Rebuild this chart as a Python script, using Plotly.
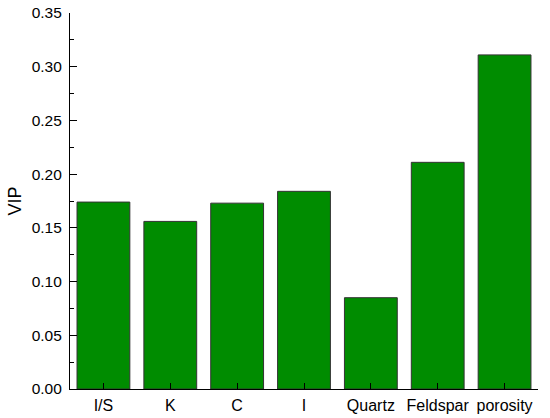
import plotly.graph_objects as go

categories = ["I/S", "K", "C", "I", "Quartz", "Feldspar", "porosity"]
vip = [0.174, 0.156, 0.173, 0.184, 0.085, 0.211, 0.311]
y_ticks = [0.00, 0.05, 0.10, 0.15, 0.20, 0.25, 0.30, 0.35]

fig = go.Figure(go.Bar(
    x=categories, y=vip,
    marker=dict(color="#008c00", line=dict(color="#333333", width=1)),
))

fig.update_layout(
    template="none",
    width=550, height=418,
    margin=dict(l=70, r=12, t=13, b=29, autoexpand=False),
    plot_bgcolor="white", paper_bgcolor="white",
    bargap=0.21,
    showlegend=False,
    font=dict(family="Liberation Sans, Arial, sans-serif", color="black", size=15),
)
fig.update_xaxes(
    range=[-0.5, 6.5], showline=True, linecolor="black", linewidth=1.2,
    ticks="inside", ticklen=6, tickcolor="black", showgrid=False,
    tickfont=dict(size=16), automargin=False, ticklabelstandoff=2,
)
fig.update_yaxes(
    range=[0, 0.35], tickvals=y_ticks, tickformat=".2f",
    showline=True, linecolor="black", linewidth=1.2,
    ticks="inside", ticklen=7, tickcolor="black", showgrid=False,
    minor=dict(ticks="inside", ticklen=4, dtick=0.025, tickcolor="black"),
    title=dict(text="VIP", font=dict(size=18), standoff=5),
    tickfont=dict(size=15.5), zeroline=False, automargin=False,
    ticklabelstandoff=4,
)

fig.write_html(
    "out.html",
    config={"displayModeBar": False},
    post_script="document.body.style.margin='0';document.body.style.overflow='hidden';",
)
